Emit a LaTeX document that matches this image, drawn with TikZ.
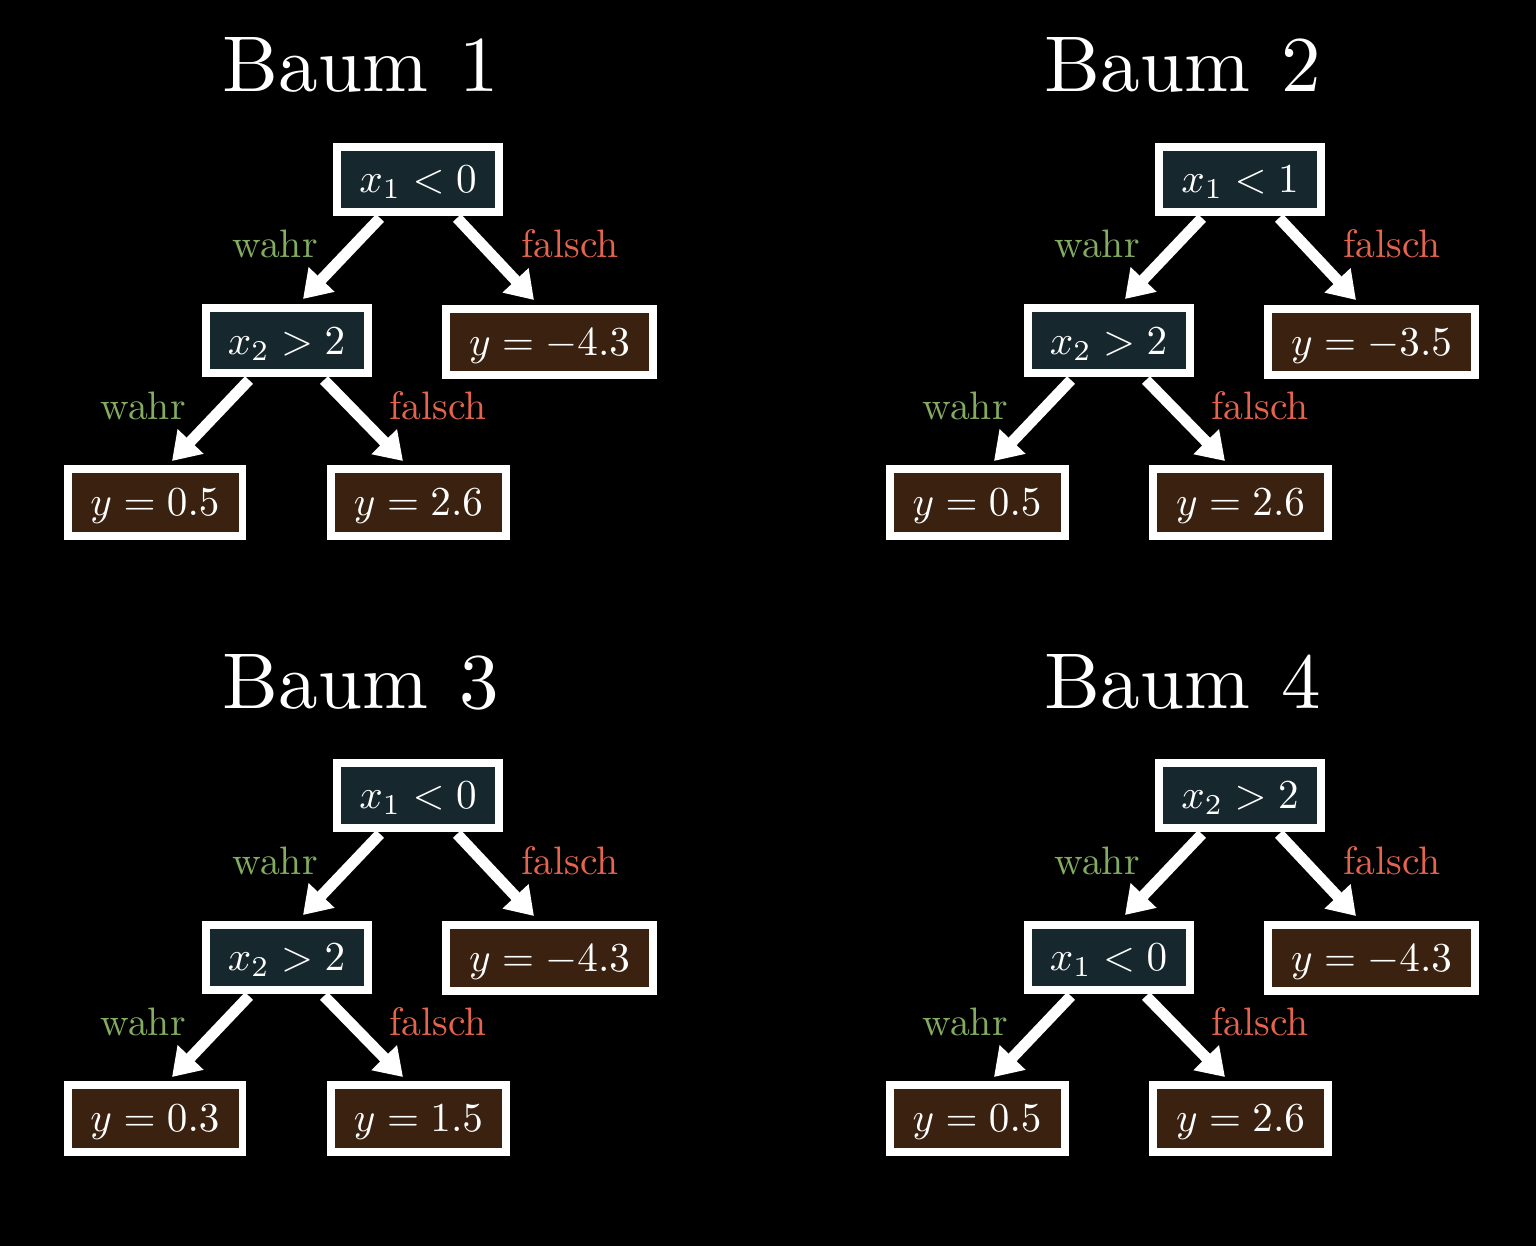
\documentclass[tikz,border=0pt]{standalone}
\usepackage{graphicx}
\usetikzlibrary{arrows.meta}
\definecolor{deccol}{RGB}{22,39,45}
\definecolor{leafcol}{RGB}{59,34,16}
\definecolor{wahrcol}{RGB}{131,172,96}
\definecolor{falschcol}{RGB}{230,100,78}
\newcommand{\bm}[1]{\scalebox{1.17}{$#1$}}
\newcommand{\lb}[1]{\scalebox{1.13}{#1}}
\newcommand{\drawtree}[9]{%
  \begin{scope}[shift={(#1,#2)}]
    \node[titletext] (#3t) at (361,92) {\scalebox{2.25}{Baum\hspace{4pt}#4}};
    \node[decbox] (#3r) at (418,179.5) {\bm{#5}};
    \node[decbox] (#3c) at (286.5,341) {\bm{#6}};
    \node[wleafbox] (#3w) at (549.5,342) {\bm{#7}};
    \node[leafbox] (#3a) at (155,502.5) {\bm{#8}};
    \node[leafbox] (#3b) at (418.5,502.5) {\bm{#9}};
    \draw[arr] ([shift={(-38,38.5)}]#3r.center) -- ([shift={(16.5,-42)}]#3c.center);
    \draw[arr] ([shift={(39,38.5)}]#3r.center) -- ([shift={(-15.5,-42)}]#3w.center);
    \draw[arr] ([shift={(-37.5,39)}]#3c.center) -- ([shift={(17,-41.5)}]#3a.center);
    \draw[arr] ([shift={(37.5,39)}]#3c.center) -- ([shift={(-15.5,-41.5)}]#3b.center);
    \node[wlab] (#3l1) at ([shift={(-143,78.5)}]#3r.center) {\lb{wahr}};
    \node[flab] (#3l2) at ([shift={(152,78.5)}]#3r.center) {\lb{falsch}};
    \node[wlab] (#3l3) at ([shift={(-143.5,78.5)}]#3c.center) {\lb{wahr}};
    \node[flab] (#3l4) at ([shift={(151.5,78.5)}]#3c.center) {\lb{falsch}};
  \end{scope}}
\begin{document}
\begin{tikzpicture}[x=0.1mm,y=-0.1mm,
  box/.style={draw=white,line width=0.8mm,inner sep=0pt,text=white,
    text height=7.5pt,text depth=0pt},
  decbox/.style={box,fill=deccol,minimum width=16.2mm,minimum height=6.5mm},
  leafbox/.style={box,fill=leafcol,minimum width=17.5mm,minimum height=6.7mm},
  wleafbox/.style={box,fill=leafcol,minimum width=20.7mm,minimum height=6.6mm},
  arr/.style={white,line width=1.1mm,-{Triangle[length=2.7mm,width=3.4mm]}},
  wlab/.style={text=wahrcol,anchor=base},
  flab/.style={text=falschcol,anchor=base},
  titletext/.style={text=white,anchor=base}]
  \fill[black] (0,0) rectangle (1536,1246);
  \useasboundingbox (0,0) rectangle (1536,1246);
  \drawtree{0}{0}{A}{1}{x_1<0}{x_2>2}{y=-4.3}{y=0.5}{y=2.6}
  \drawtree{822}{0}{B}{2}{x_1<1}{x_2>2}{y=-3.5}{y=0.5}{y=2.6}
  \drawtree{0}{616}{C}{3}{x_1<0}{x_2>2}{y=-4.3}{y=0.3}{y=1.5}
  \drawtree{822}{616}{D}{4}{x_2>2}{x_1<0}{y=-4.3}{y=0.5}{y=2.6}
\end{tikzpicture}
\end{document}
